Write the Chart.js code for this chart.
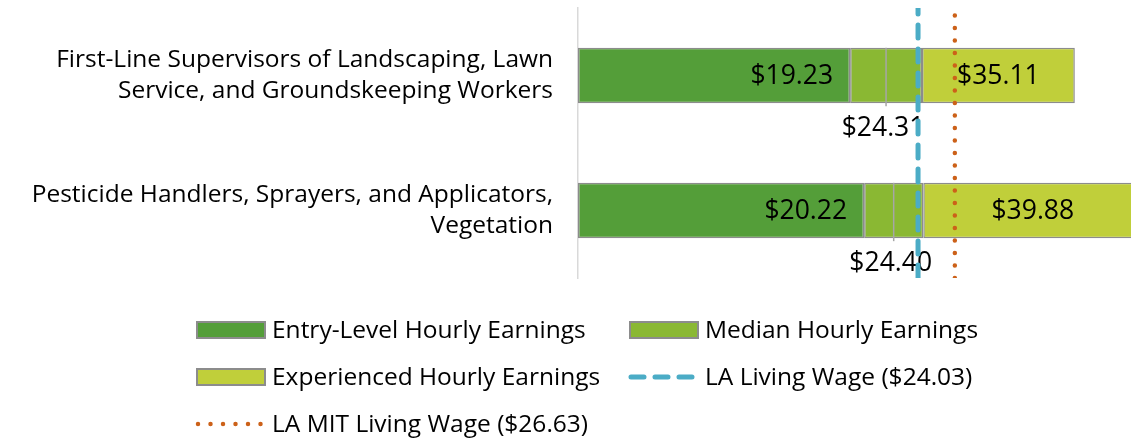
<!DOCTYPE html>
<html>
<head>
<meta charset="utf-8">
<script src="https://cdn.jsdelivr.net/npm/chart.js@4.4.1/dist/chart.umd.min.js"></script>
<style>
    html, body { margin: 0; padding: 0; background: #fff; }
    #wrap { width: 1131px; height: 440px; position: relative; }
</style>
</head>
<body>
<div id="wrap"><canvas id="chartWages"></canvas></div>
<script>
const occupations = [
    ['First-Line Supervisors of Landscaping, Lawn', 'Service, and Groundskeeping Workers'],
    ['Pesticide Handlers, Sprayers, and Applicators,', 'Vegetation']
];
const entryLevel = [19.23, 20.22];
const medianWage = [24.31, 24.40];
const experienced = [35.11, 39.88];
const livingWage = 24.03;
const mitLivingWage = 26.63;

const FONT = '"Open Sans", Lato, sans-serif';
const money = v => '$' + v.toFixed(2);

// data labels + leader lines, drawn before the wage lines go on top
const barLabels = {
    id: 'barLabels',
    afterDatasetDraw(chart, args) {
        if (args.index !== 0) return;
        const ctx = chart.ctx;
        ctx.save();
        ctx.fillStyle = '#000';
        ctx.font = '26.5px ' + FONT;
        ctx.textBaseline = 'middle';
        [0, 1, 2].forEach(d => {
            const meta = chart.getDatasetMeta(d);
            meta.data.forEach((bar, i) => {
                const p = bar.getProps(['x', 'base', 'y', 'height'], true);
                const val = chart.data.datasets[d].values[i];
                if (d === 0) {
                    ctx.textAlign = 'right';
                    ctx.fillText(money(val), p.x - 17, p.y + 1);
                } else if (d === 1) {
                    const cx = (p.x + p.base) / 2;
                    ctx.strokeStyle = '#a6a6a6';
                    ctx.lineWidth = 1.5;
                    ctx.beginPath();
                    ctx.moveTo(cx, p.y - p.height / 2);
                    ctx.lineTo(cx, p.y + p.height / 2 + 3);
                    ctx.stroke();
                    ctx.textAlign = 'center';
                    ctx.fillText(money(val), cx - 3, p.y + p.height / 2 + 25);
                } else {
                    ctx.textAlign = 'center';
                    ctx.fillText(money(val), (p.x + p.base) / 2, p.y + 1);
                }
            });
        });
        ctx.restore();
    }
};

// legend laid out in two columns like the original
const gridLegend = {
    id: 'gridLegend',
    afterDraw(chart) {
        const ctx = chart.ctx;
        const cols = [197, 630];
        const rows = [330, 377, 424];
        ctx.save();
        ctx.font = '24.5px ' + FONT;
        ctx.textBaseline = 'middle';
        ctx.textAlign = 'left';
        chart.data.datasets.forEach((ds, i) => {
            const x = cols[i % 2];
            const y = rows[Math.floor(i / 2)];
            if (ds.type === 'line') {
                ctx.strokeStyle = ds.borderColor;
                ctx.lineWidth = ds.borderWidth;
                ctx.lineCap = 'round';
                ctx.setLineDash(ds.borderDash);
                ctx.beginPath();
                ctx.moveTo(x + 1, y);
                ctx.lineTo(x + 64, y);
                ctx.stroke();
                ctx.setLineDash([]);
            } else {
                ctx.fillStyle = ds.backgroundColor;
                ctx.fillRect(x, y - 8, 68, 16);
                ctx.strokeStyle = ds.borderColor;
                ctx.lineWidth = 2;
                ctx.strokeRect(x, y - 8, 68, 16);
            }
            ctx.fillStyle = '#000';
            ctx.fillText(ds.label, 272 + (x - 197), y + 1);
        });
        ctx.restore();
    }
};

const barStyle = { borderColor: '#8c8c8c', borderWidth: 1.5, borderSkipped: false, grouped: false, order: 3 };

new Chart(document.getElementById('chartWages'), {
    type: 'bar',
    data: {
        labels: occupations,
        datasets: [
            { label: 'Entry-Level Hourly Earnings', values: entryLevel,
              data: entryLevel.map(v => [0, v]), backgroundColor: '#549E39', ...barStyle },
            { label: 'Median Hourly Earnings', values: medianWage,
              data: medianWage.map((v, i) => [entryLevel[i], v]), backgroundColor: '#8AB833', ...barStyle },
            { label: 'Experienced Hourly Earnings', values: experienced,
              data: experienced.map((v, i) => [medianWage[i], v]), backgroundColor: '#C0CF3A', ...barStyle },
            { type: 'line', label: 'LA Living Wage ($' + livingWage.toFixed(2) + ')', yAxisID: 'y2',
              data: [{ x: livingWage, y: 0 }, { x: livingWage, y: 1 }],
              borderColor: '#4BACC6', borderWidth: 5, borderDash: [13, 11], borderCapStyle: 'round',
              pointRadius: 0, order: 1 },
            { type: 'line', label: 'LA MIT Living Wage ($' + mitLivingWage.toFixed(2) + ')', yAxisID: 'y2',
              data: [{ x: mitLivingWage, y: 0 }, { x: mitLivingWage, y: 1 }],
              borderColor: '#CC6119', borderWidth: 4.5, borderDash: [0, 12.5], borderCapStyle: 'round',
              pointRadius: 0, order: 1 }
        ]
    },
    options: {
        indexAxis: 'y',
        responsive: true,
        maintainAspectRatio: false,
        animation: false,
        layout: { padding: { top: 8, bottom: 162, left: 0, right: 0 } },
        datasets: { bar: { barPercentage: 0.41, categoryPercentage: 1 } },
        plugins: { legend: { display: false }, tooltip: { enabled: false } },
        scales: {
            x: { display: false, min: 0, max: 39.08 },
            y: {
                afterFit: s => { s.width = 578; s.paddingTop = 0; s.paddingBottom = 0; },
                grid: { display: false },
                border: { color: '#d9d9d9', width: 1.5 },
                ticks: { color: '#000', padding: 17, font: { family: FONT, size: 24.5, lineHeight: 1.28 } }
            },
            y2: { type: 'linear', display: false, min: 0, max: 1, offset: false }
        }
    },
    plugins: [barLabels, gridLegend]
});
</script>
</body>
</html>
